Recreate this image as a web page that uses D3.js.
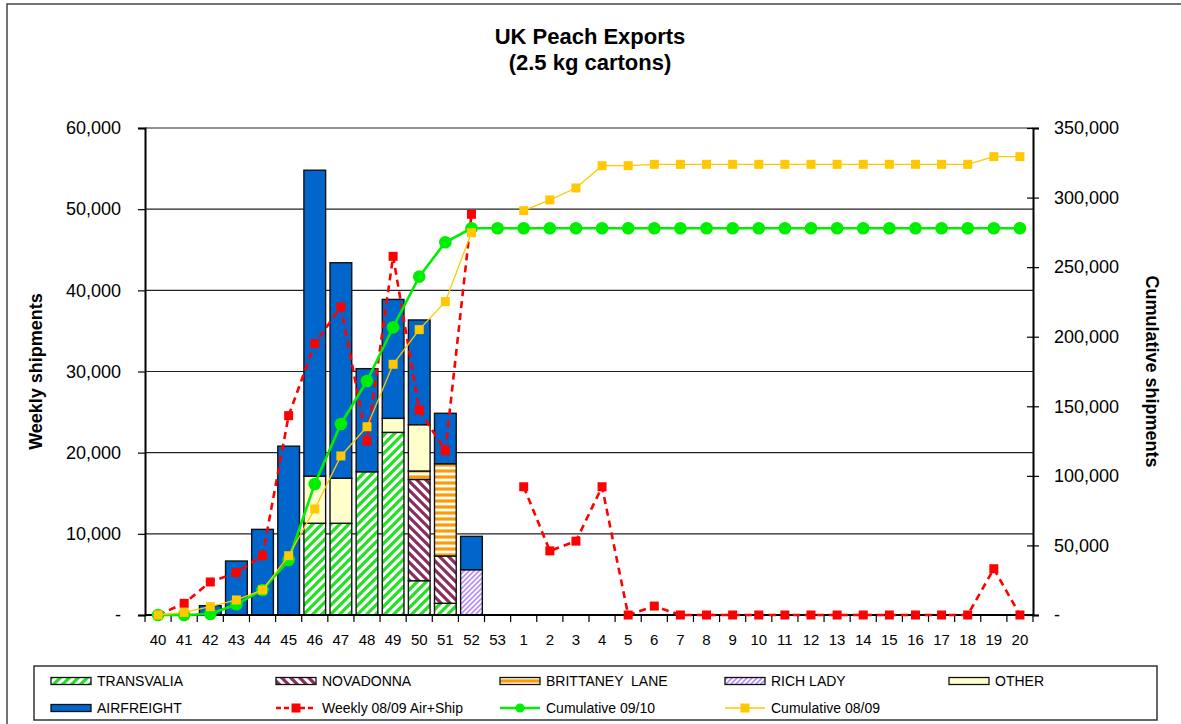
<!DOCTYPE html>
<html lang="en">
<head>
<meta charset="UTF-8">
<title>UK Peach Exports</title>
<script src="https://d3js.org/d3.v7.min.js"></script>
<style>
  body { margin: 0; background: #fff; }
  svg { font-family: "Liberation Sans", Arial, sans-serif; }
</style>
</head>
<body>
<div id="chart"></div>
<script>
// weeks of the season (40..53 then 1..20)
const weeks = ["40","41","42","43","44","45","46","47","48","49","50","51","52","53",
  "1","2","3","4","5","6","7","8","9","10","11","12","13","14","15","16","17","18","19","20"];

// weekly shipments by variety (2.5 kg cartons), 09/10 season
const transvalia = [0,0,0,0,0,0,11300,11300,17650,22500,4230,1440,0,0, 0,0,0,0,0,0,0,0,0,0,0,0,0,0,0,0,0,0,0,0];
const novadonna  = [0,0,0,0,0,0,0,0,0,0,12470,5830,0,0, 0,0,0,0,0,0,0,0,0,0,0,0,0,0,0,0,0,0,0,0];
const brittaney  = [0,0,0,0,0,0,0,0,0,0,1040,11370,0,0, 0,0,0,0,0,0,0,0,0,0,0,0,0,0,0,0,0,0,0,0];
const richLady   = [0,0,0,0,0,0,0,0,0,0,0,0,5580,0, 0,0,0,0,0,0,0,0,0,0,0,0,0,0,0,0,0,0,0,0];
const other      = [0,0,0,0,0,0,5800,5550,0,1730,5710,0,0,0, 0,0,0,0,0,0,0,0,0,0,0,0,0,0,0,0,0,0,0,0];
const airfreight = [0,0,1150,6650,10550,20800,37700,26550,12700,14650,12900,6210,4110,0, 0,0,0,0,0,0,0,0,0,0,0,0,0,0,0,0,0,0,0,0];

// lines
const weekly0809 = [0,1440,4070,5220,7310,24560,33430,37950,21440,44190,25260,20240,49370,null,
  15800,7900,9100,15800,0,1100,0,0,0,0,0,0,0,0,0,0,0,0,5700,0];
const cum0910 = [0,0,700,7700,18000,39500,94200,137300,168200,206800,243200,267900,277900,277900,
  277900,277900,277900,277900,277900,277900,277900,277900,277900,277900,277900,277900,277900,277900,277900,277900,277900,277900,277900,277900];
const cum0809 = [0,1900,6000,10800,18000,42600,76200,114300,135300,180200,205100,225200,274800,null,
  290600,298300,306900,322900,322900,323900,323900,323900,323900,323900,323900,323900,323900,323900,323900,323900,323900,323900,329400,329400];

const leftTicks = [0,10000,20000,30000,40000,50000,60000];
const rightTicks = [0,50000,100000,150000,200000,250000,300000,350000];

const W = 1181, H = 724;
const plot = {left: 145, right: 1033, top: 128, bottom: 615};

const svg = d3.select("#chart").append("svg").attr("width", W).attr("height", H);

// patterns
const defs = svg.append("defs");
function stripes(id, size, color, width, dir) {
  const p = defs.append("pattern").attr("id", id)
    .attr("patternUnits", "userSpaceOnUse").attr("width", size).attr("height", size);
  p.append("rect").attr("width", size).attr("height", size).attr("fill", "#fff");
  let d;
  if (dir === "up") d = `M${-size/2},${size/2} L${size/2},${-size/2} M0,${size} L${size},0 M${size/2},${size*1.5} L${size*1.5},${size/2}`;
  else if (dir === "down") d = `M${-size/2},${size/2} L${size/2},${size*1.5} M0,0 L${size},${size} M${size/2},${-size/2} L${size*1.5},${size/2}`;
  else d = `M0,${size/2} L${size},${size/2}`;
  p.append("path").attr("d", d).attr("stroke", color).attr("stroke-width", width);
}
stripes("pTrans", 9, "#22e022", 3.2, "up");
stripes("pNova", 9, "#8a2e5e", 3.2, "down");
stripes("pBritt", 6, "#ff9a00", 3.2, "h");
stripes("pRich", 5, "#b88cff", 1.6, "up");

const series = [
  {key: "transvalia", name: "TRANSVALIA", values: transvalia, fill: "url(#pTrans)"},
  {key: "novadonna", name: "NOVADONNA", values: novadonna, fill: "url(#pNova)"},
  {key: "brittaney", name: "BRITTANEY  LANE", values: brittaney, fill: "url(#pBritt)"},
  {key: "richLady", name: "RICH LADY", values: richLady, fill: "url(#pRich)"},
  {key: "other", name: "OTHER", values: other, fill: "#ffffcc"},
  {key: "airfreight", name: "AIRFREIGHT", values: airfreight, fill: "#0066cc"}
];

// outer frame
svg.append("rect").attr("x", 7).attr("y", 4).attr("width", 1200).attr("height", 740)
  .attr("fill", "none").attr("stroke", "#444").attr("stroke-width", 1.5);

// scales
const x = d3.scaleBand().domain(weeks).range([plot.left, plot.right]).padding(0);
const yL = d3.scaleLinear().domain([0, 60000]).range([plot.bottom, plot.top]);
const yR = d3.scaleLinear().domain([0, 350000]).range([plot.bottom, plot.top]);
const fmt = v => v === 0 ? "-" : d3.format(",")(v);

// gridlines
svg.append("g").selectAll("line").data(leftTicks.filter(d => d > 0)).enter().append("line")
  .attr("x1", plot.left).attr("x2", plot.right)
  .attr("y1", d => yL(d)).attr("y2", d => yL(d))
  .attr("stroke", "#222").attr("stroke-width", 1.2);

// stacked bars
const table = weeks.map((w, i) => {
  const row = {week: w};
  series.forEach(s => row[s.key] = s.values[i]);
  return row;
});
const stack = d3.stack().keys(series.map(s => s.key))(table);
const bw = x.bandwidth();
stack.forEach((layer, li) => {
  svg.append("g").selectAll("rect")
    .data(layer.filter(d => d[1] - d[0] > 0))
    .enter().append("rect")
      .attr("x", d => x(d.data.week) + 2.2)
      .attr("width", bw - 4.4)
      .attr("y", d => yL(d[1]))
      .attr("height", d => yL(d[0]) - yL(d[1]))
      .attr("fill", series[li].fill)
      .attr("stroke", "#111").attr("stroke-width", 1.4);
});

// axes
const axL = svg.append("g").attr("transform", `translate(${plot.left},0)`)
  .call(d3.axisLeft(yL).tickValues(leftTicks).tickFormat(fmt).tickSizeOuter(0).tickSize(7).tickPadding(17));
axL.select(".domain").attr("stroke", "#000").attr("stroke-width", 2);
axL.selectAll(".tick line").attr("stroke", "#000").attr("stroke-width", 1.2);
axL.selectAll("text").attr("font-size", 18).attr("font-family", "Liberation Sans, Arial, sans-serif").attr("fill", "#000");

const axR = svg.append("g").attr("transform", `translate(${plot.right},0)`)
  .call(d3.axisRight(yR).tickValues(rightTicks).tickFormat(fmt).tickSizeOuter(0).tickSize(6).tickPadding(15));
axR.select(".domain").attr("stroke", "#000").attr("stroke-width", 2);
axR.selectAll(".tick line").attr("x1", -6).attr("stroke", "#000").attr("stroke-width", 1.2);
axR.selectAll("text").attr("font-size", 18).attr("font-family", "Liberation Sans, Arial, sans-serif").attr("fill", "#000");

// x axis with ticks at band edges
const gx = svg.append("g");
gx.append("line").attr("x1", plot.left).attr("x2", plot.right)
  .attr("y1", plot.bottom).attr("y2", plot.bottom).attr("stroke", "#000").attr("stroke-width", 2);
gx.selectAll(".xt").data(weeks.concat(["end"])).enter().append("line")
  .attr("x1", (d, i) => plot.left + i * x.step()).attr("x2", (d, i) => plot.left + i * x.step())
  .attr("y1", plot.bottom).attr("y2", plot.bottom + 7)
  .attr("stroke", "#000").attr("stroke-width", 1.2);
gx.selectAll("text").data(weeks).enter().append("text")
  .attr("x", d => x(d) + bw / 2).attr("y", 645)
  .attr("text-anchor", "middle").attr("font-size", 15).text(d => d);

// lines
function drawLine(vals, scale, color, width, dash) {
  const line = d3.line()
    .defined(d => d != null)
    .x((d, i) => x(weeks[i]) + bw / 2)
    .y(d => scale(d));
  svg.append("path").datum(vals).attr("d", line)
    .attr("fill", "none").attr("stroke", color).attr("stroke-width", width)
    .attr("stroke-dasharray", dash || null);
}
function squares(vals, scale, color, s) {
  svg.append("g").selectAll("rect")
    .data(vals.map((v, i) => ({v, i})).filter(d => d.v != null)).enter().append("rect")
    .attr("x", d => x(weeks[d.i]) + bw / 2 - s / 2).attr("y", d => scale(d.v) - s / 2)
    .attr("width", s).attr("height", s).attr("fill", color);
}

drawLine(weekly0809, yL, "#ff0000", 2.6, "7,5");
squares(weekly0809, yL, "#ff0000", 9);

drawLine(cum0910, yR, "#00ee00", 2.6);
svg.append("g").selectAll("circle").data(cum0910).enter().append("circle")
  .attr("cx", (d, i) => x(weeks[i]) + bw / 2).attr("cy", d => yR(d))
  .attr("r", 6.3).attr("fill", "#00ee00");

drawLine(cum0809, yR, "#ffc800", 1.3);
squares(cum0809, yR, "#ffc800", 9);

// titles
svg.append("text").attr("x", 590).attr("y", 44).attr("text-anchor", "middle")
  .attr("font-size", 22).attr("font-weight", "bold").text("UK Peach Exports");
svg.append("text").attr("x", 590).attr("y", 70).attr("text-anchor", "middle")
  .attr("font-size", 22).attr("font-weight", "bold").text("(2.5 kg cartons)");

svg.append("text").attr("transform", `translate(42,${(plot.top + plot.bottom) / 2}) rotate(-90)`)
  .attr("text-anchor", "middle").attr("font-size", 18).attr("font-weight", "bold")
  .text("Weekly shipments");
svg.append("text").attr("transform", `translate(1146,${(plot.top + plot.bottom) / 2}) rotate(90)`)
  .attr("text-anchor", "middle").attr("font-size", 18).attr("font-weight", "bold")
  .text("Cumulative shipments");

// legend
svg.append("rect").attr("x", 34).attr("y", 666).attr("width", 1123).attr("height", 54)
  .attr("fill", "#fff").attr("stroke", "#333").attr("stroke-width", 1.5);

const colX = [51, 276, 500, 725, 949];
const rowY = [681, 708];
const legendItems = series.map(s => ({name: s.name, type: "bar", fill: s.fill}))
  .concat([
    {name: "Weekly 08/09 Air+Ship", type: "line", color: "#ff0000", width: 2.6, dash: "5,3", marker: "sq", ms: 9},
    {name: "Cumulative 09/10", type: "line", color: "#00ee00", width: 2.6, marker: "ci"},
    {name: "Cumulative 08/09", type: "line", color: "#ffc800", width: 1.3, marker: "sq", ms: 9}
  ]);
legendItems.forEach((it, i) => {
  const cx = colX[i % 5], cy = rowY[Math.floor(i / 5)];
  const g = svg.append("g");
  if (it.type === "bar") {
    g.append("rect").attr("x", cx).attr("y", cy - 3.5).attr("width", 40).attr("height", 7)
      .attr("fill", it.fill).attr("stroke", "#111").attr("stroke-width", 1.3);
  } else {
    g.append("line").attr("x1", cx).attr("x2", cx + 40).attr("y1", cy).attr("y2", cy)
      .attr("stroke", it.color).attr("stroke-width", it.width).attr("stroke-dasharray", it.dash || null);
    if (it.marker === "sq") {
      g.append("rect").attr("x", cx + 20 - it.ms / 2).attr("y", cy - it.ms / 2)
        .attr("width", it.ms).attr("height", it.ms).attr("fill", it.color);
    } else {
      g.append("circle").attr("cx", cx + 20).attr("cy", cy).attr("r", 4.5).attr("fill", it.color);
    }
  }
  g.append("text").attr("x", cx + 46).attr("y", cy + 5).attr("font-size", 14)
    .attr("xml:space", "preserve").style("white-space", "pre").text(it.name);
});
</script>
</body>
</html>
